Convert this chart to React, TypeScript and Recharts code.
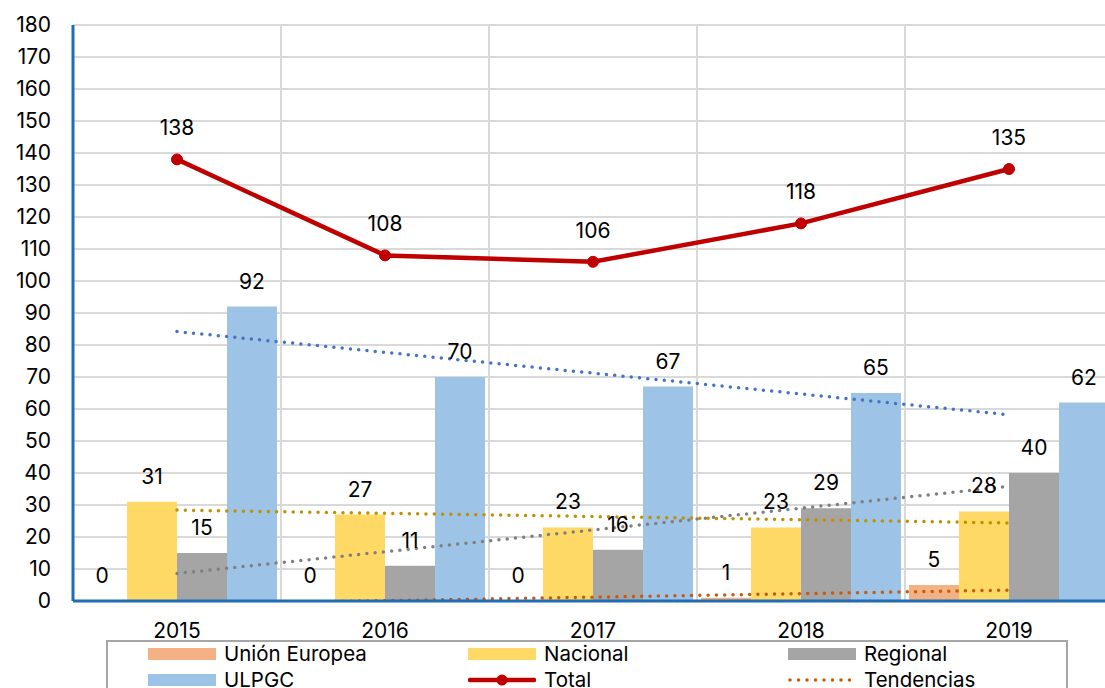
import React from 'react';
import { ComposedChart, Bar, Line, XAxis, YAxis, CartesianGrid, LabelList } from 'recharts';

const years = ['2015', '2016', '2017', '2018', '2019'];
const unionEuropea = [0, 0, 0, 1, 5];
const nacional = [31, 27, 23, 23, 28];
const regional = [15, 11, 16, 29, 40];
const ulpgc = [92, 70, 67, 65, 62];
const total = [138, 108, 106, 118, 135];

// trend lines at each year
const trendUE = [-1.0, 0.1, 1.2, 2.3, 3.4];
const trendNacional = [28.4, 27.4, 26.4, 25.4, 24.4];
const trendRegional = [8.6, 15.4, 22.2, 29.0, 35.8];
const trendULPGC = [84.2, 77.7, 71.2, 64.7, 58.2];

const yTicks = [0, 10, 20, 30, 40, 50, 60, 70, 80, 90, 100, 110, 120, 130, 140, 150, 160, 170, 180];

const data = years.map((year, i) => ({
  year,
  ue: unionEuropea[i],
  nacional: nacional[i],
  regional: regional[i],
  ulpgc: ulpgc[i],
  total: total[i],
  tUE: trendUE[i],
  tNacional: trendNacional[i],
  tRegional: trendRegional[i],
  tULPGC: trendULPGC[i],
}));

const FONT = 'Inter, "Noto Sans", sans-serif';
const AXIS_BLUE = '#1f6db3';
const labelStyle = { fill: '#000', fontSize: 21, fontFamily: FONT };

const legendItems = [
  { name: 'Unión Europea', kind: 'bar', color: '#f4b183' },
  { name: 'Nacional', kind: 'bar', color: '#ffd966' },
  { name: 'Regional', kind: 'bar', color: '#a5a5a5' },
  { name: 'ULPGC', kind: 'bar', color: '#9dc3e6' },
  { name: 'Total', kind: 'line', color: '#c00000' },
  { name: 'Tendencias', kind: 'dots', color: '#c55a11' },
];

const Swatch = ({ kind, color }: { kind: string; color: string }) => (
  <svg width={68} height={14} style={{ display: 'block' }}>
    {kind === 'bar' && <rect x={0} y={1} width={68} height={12} fill={color} />}
    {kind === 'line' && (
      <g>
        <line x1={2} y1={7} x2={66} y2={7} stroke={color} strokeWidth={4.5} strokeLinecap="round" />
        <circle cx={34} cy={7} r={5.5} fill={color} />
      </g>
    )}
    {kind === 'dots' && (
      <line x1={2} y1={7} x2={66} y2={7} stroke={color} strokeWidth={3.5} strokeDasharray="0 8.5" strokeLinecap="round" />
    )}
  </svg>
);

const trendProps = {
  strokeWidth: 3.5,
  strokeDasharray: '0 8.3',
  strokeLinecap: 'round' as const,
  dot: false,
  activeDot: false,
  legendType: 'none' as const,
  isAnimationActive: false,
};

const App = () => {
  return (
    <div style={{ position: 'absolute', left: 0, top: 0, width: 1105, height: 688, overflow: 'hidden', background: '#fff' }}>
      <ComposedChart
        width={1113}
        height={688}
        data={data}
        margin={{ top: 25, right: 0, left: 0, bottom: 47 }}
        barCategoryGap={4}
        barGap={0}
      >
        <CartesianGrid
          stroke="#d9d9d9"
          strokeWidth={2}
          verticalCoordinatesGenerator={({ offset }: any) => {
            const band = offset.width / years.length;
            return years.slice(1).map((_, i) => offset.left + (i + 1) * band);
          }}
        />
        <XAxis
          dataKey="year"
          height={40}
          tickLine={false}
          tickSize={0}
          tickMargin={22}
          axisLine={{ stroke: AXIS_BLUE, strokeWidth: 3 }}
          tick={labelStyle}
        />
        <YAxis
          width={73}
          domain={[0, 180]}
          ticks={yTicks}
          allowDataOverflow
          interval={0}
          tickLine={false}
          tickSize={0}
          tickMargin={22}
          axisLine={{ stroke: AXIS_BLUE, strokeWidth: 3 }}
          tick={labelStyle}
        />
        <Bar dataKey="ue" fill="#f4b183" minPointSize={0.5} isAnimationActive={false}>
          <LabelList dataKey="ue" position="top" offset={18} style={labelStyle} />
        </Bar>
        <Bar dataKey="nacional" fill="#ffd966" isAnimationActive={false}>
          <LabelList dataKey="nacional" position="top" offset={18} style={labelStyle} />
        </Bar>
        <Bar dataKey="regional" fill="#a5a5a5" isAnimationActive={false}>
          <LabelList dataKey="regional" position="top" offset={18} style={labelStyle} />
        </Bar>
        <Bar dataKey="ulpgc" fill="#9dc3e6" isAnimationActive={false}>
          <LabelList dataKey="ulpgc" position="top" offset={18} style={labelStyle} />
        </Bar>
        <Line dataKey="tULPGC" stroke="#4472c4" {...trendProps} />
        <Line dataKey="tRegional" stroke="#7f7f7f" {...trendProps} />
        <Line dataKey="tNacional" stroke="#bf9000" {...trendProps} />
        <Line dataKey="tUE" stroke="#c55a11" {...trendProps} />
        <Line
          dataKey="total"
          stroke="#c00000"
          strokeWidth={4.5}
          dot={{ r: 5.5, fill: '#c00000', stroke: '#c00000', strokeWidth: 1 }}
          activeDot={false}
          isAnimationActive={false}
        >
          <LabelList dataKey="total" position="top" offset={24} style={labelStyle} />
        </Line>
      </ComposedChart>
      <div
        style={{
          position: 'absolute',
          left: 106,
          top: 640,
          width: 958,
          height: 60,
          border: '2px solid #a6a6a6',
          fontFamily: FONT,
          fontSize: 20.5,
          color: '#000',
        }}
      >
        {legendItems.map((item, i) => (
          <div
            key={item.name}
            style={{
              position: 'absolute',
              left: 40 + (i % 3) * 320,
              top: 1 + Math.floor(i / 3) * 26,
              display: 'flex',
              alignItems: 'center',
              gap: 8,
              lineHeight: '22px',
            }}
          >
            <Swatch kind={item.kind} color={item.color} />
            <span>{item.name}</span>
          </div>
        ))}
      </div>
    </div>
  );
};

export default App;
